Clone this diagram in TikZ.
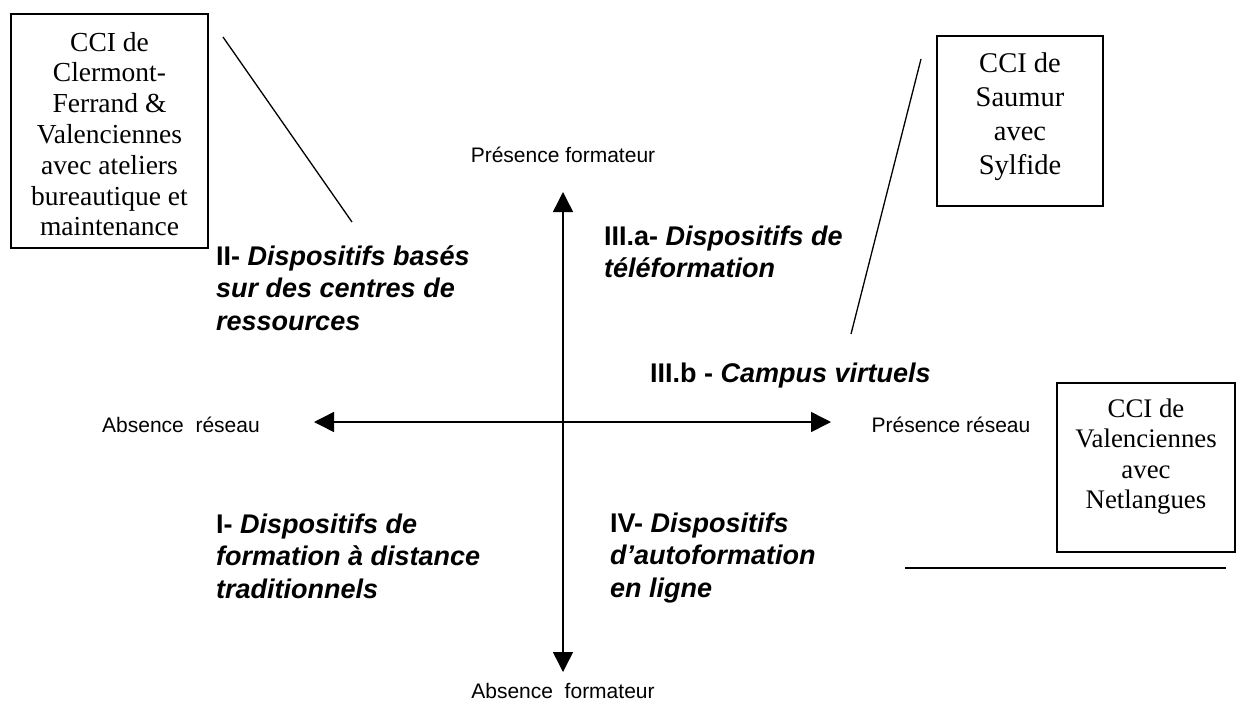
\documentclass[tikz,border=0pt]{standalone}
\usepackage{fontspec}
\setmainfont{Liberation Serif}
\setsansfont{Liberation Sans}
\usetikzlibrary{arrows.meta}
\begin{document}
\begin{tikzpicture}[x=1pt,y=-1pt,
  axis/.style={line width=1.5pt,{Triangle[length=20pt,width=20pt]}-{Triangle[length=20pt,width=20pt]}},
  pointer/.style={line width=1.3pt},
  cbox/.style={draw,line width=1.5pt,inner sep=0pt},
  ctext/.style={align=center,inner sep=0pt},
  axlabel/.style={inner sep=0pt,font=\sffamily\fontsize{21}{25}\selectfont},
  qlabel/.style={align=left,anchor=west,inner sep=0pt,font=\sffamily\bfseries\fontsize{27}{32.5}\selectfont}]
\useasboundingbox[fill=white] (0,0) rectangle (1237,702);

% axes
\coordinate (L) at (314,422);
\coordinate (R) at (831,422);
\coordinate (T) at (563,192);
\coordinate (B) at (563,672);
\draw[axis] (L) -- (R);
\draw[axis] (B) -- (T);

% axis labels
\node[axlabel] (pf) at (563,155) {Présence formateur};
\node[axlabel] (af) at (563,691) {Absence\ \ formateur};
\node[axlabel] (ar) at (181,425) {Absence\ \ réseau};
\node[axlabel] (pr) at (951,425) {Présence réseau};

% quadrant labels
\node[qlabel] (q2) at (216,288) {II- \textit{Dispositifs basés}\\\textit{sur des centres de}\\\textit{ressources}};
\node[qlabel] (q3a) at (604,252) {III.a- \textit{Dispositifs de}\\\textit{téléformation}};
\node[qlabel] (q3b) at (650,376) {III.b - \textit{Campus virtuels}};
\node[qlabel] (q1) at (216,556) {I- \textit{Dispositifs de}\\\textit{formation à distance}\\\textit{traditionnels}};
\node[qlabel] (q4) at (610,558) {IV- \textit{Dispositifs}\\\textit{d'autoformation}\\\textit{en ligne}};

% boxes
\node[cbox,minimum width=197,minimum height=234] (b1) at (109.5,131) {};
\node[ctext,font=\fontsize{27.5}{30.8}\selectfont] (t1) at ([yshift=-3]b1.center) {CCI de\\Clermont-\\Ferrand \&\\Valenciennes\\avec ateliers\\bureautique et\\maintenance};
\node[cbox,minimum width=166,minimum height=170] (b2) at (1020,121) {};
\node[ctext,font=\fontsize{28.5}{34}\selectfont] (t2) at ([yshift=4]b2.center) {CCI de\\Saumur\\avec\\Sylfide};
\node[cbox,minimum width=178,minimum height=169] (b3) at (1146,467.5) {};
\node[ctext,font=\fontsize{26.8}{30.5}\selectfont] (t3) at ([yshift=11]b3.center) {CCI de\\Valenciennes\\avec\\Netlangues};

% pointer lines
\coordinate (p1a) at (223,37);
\coordinate (p1b) at (352,222);
\coordinate (p2a) at (921,59);
\coordinate (p2b) at (851,334);
\coordinate (p3a) at (905,568);
\coordinate (p3b) at (1226,568);
\draw[pointer] (p1a) -- (p1b);
\draw[pointer] (p2a) -- (p2b);
\draw[pointer] (p3a) -- (p3b);
\end{tikzpicture}
\end{document}
